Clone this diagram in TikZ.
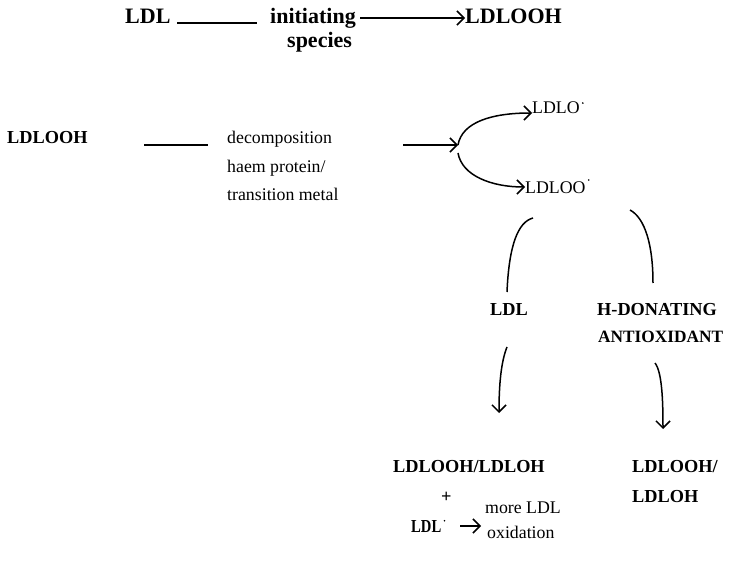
\documentclass[tikz,border=0pt]{standalone}
\usepackage{fontspec}
\setmainfont{Liberation Serif}
\usetikzlibrary{arrows.meta}
\begin{document}
\begin{tikzpicture}[x=1pt,y=-1pt,
  big/.style={font=\fontsize{22}{24}\selectfont\bfseries, inner sep=0pt, anchor=base west},
  lbl/.style={font=\fontsize{17.8}{20}\selectfont, inner sep=0pt, anchor=base west},
  blbl/.style={font=\fontsize{18.3}{20}\selectfont\bfseries, inner sep=0pt, anchor=base west},
  con/.style={line width=1.5pt},
  arr/.style={line width=1.5pt, -{Straight Barb[length=7pt,width=14pt,line width=1.5pt]}},
  dot/.style={circle, fill=black, inner sep=0pt, minimum size=1.8pt}]
\useasboundingbox (0,0) rectangle (729,564);
% top row
\node[big] (ldl) at (125,24) {LDL};
\node[big] (init) at (270,24) {initiating};
\node[big] (spec) at (287,48) {species};
\node[big] (ldlooh1) at (465,24) {LDLOOH};
\draw[con] (177,23) -- (257,23);
\draw[arr] (360,18) -- (ldlooh1.west |- 0,18);
% second row
\node[blbl] (ldlooh2) at (7,144) {LDLOOH};
\node[lbl] (dec) at (227,144) {decomposition};
\node[lbl] (haem) at (227,173) {haem protein/};
\node[lbl] (trans) at (227,201) {transition metal};
\draw[con] (144,145) -- (208,145);
\coordinate (fork) at (458,145);
\draw[arr] (403,145) -- (fork);
\node[lbl] (ldlo) at (532,114) {LDLO};
\node[dot] at ([shift={(3,1)}]ldlo.north east) {};
\node[lbl] (ldloo) at (525,194) {LDLOO};
\node[dot] at ([shift={(3,-2)}]ldloo.north east) {};
\draw[arr] (fork) .. controls (462,122) and (492,113) .. (ldlo.west |- 0,113);
\draw[arr] (458,153) .. controls (462,176) and (492,187) .. (ldloo.west |- 0,187);
% arcs
\draw[con] (507,292) .. controls (509,245) and (518,222) .. (533,218);
\draw[con] (630,210) .. controls (645,218) and (653,245) .. (653,283);
\node[blbl] (ldl2) at (490,316) {LDL};
\node[blbl] (hdon) at (597,316) {H-DONATING};
\node[blbl, font=\fontsize{17.3}{20}\selectfont\bfseries] (antiox) at (598,343) {ANTIOXIDANT};
\draw[arr] (507,347) .. controls (501,362) and (499,385) .. (499,413);
\draw[arr] (655,363) .. controls (662,372) and (663,400) .. (663,429);
% bottom
\node[blbl] (prod1) at (393,472) {LDLOOH/LDLOH};
\node[blbl] (plus) at (441,502) {+};
\node[blbl] (ldlr) at (411,532) {\scalebox{0.8}[1]{LDL}};
\node[dot] at ([shift={(3,1)}]ldlr.north east) {};
\draw[arr] (460,526) -- (481,526);
\node[lbl] (more) at (485,513) {more LDL};
\node[lbl] (oxid) at (487,538) {oxidation};
\node[blbl] (prod2) at (632,472) {LDLOOH/};
\node[blbl] (prod3) at (632,502) {LDLOH};
\end{tikzpicture}
\end{document}
